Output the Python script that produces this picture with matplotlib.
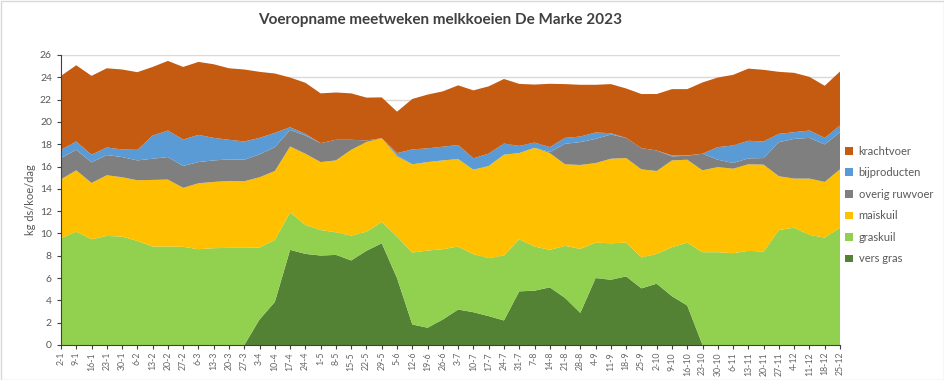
import numpy as np
import matplotlib
matplotlib.use("Agg")
import matplotlib.pyplot as plt
from matplotlib.patches import Rectangle

plt.rcParams['font.family'] = ['Lato', 'DejaVu Sans']

weeks = ["2-1", "9-1", "16-1", "23-1", "30-1", "6-2", "13-2", "20-2", "27-2", "6-3",
         "13-3", "20-3", "27-3", "3-4", "10-4", "17-4", "24-4", "1-5", "8-5", "15-5",
         "22-5", "29-5", "5-6", "12-6", "19-6", "26-6", "3-7", "10-7", "17-7", "24-7",
         "31-7", "7-8", "14-8", "21-8", "28-8", "4-9", "11-9", "18-9", "25-9", "2-10",
         "9-10", "16-10", "23-10", "30-10", "6-11", "13-11", "20-11", "27-11", "4-12",
         "11-12", "18-12", "25-12"]

vers_gras = [0, 0, 0, 0, 0, 0, 0, 0, 0, 0,
             0, 0, 0, 2.29, 3.86, 8.53, 8.17, 8.02, 8.08, 7.58,
             8.45, 9.12, 6.0, 1.84, 1.55, 2.29, 3.18, 2.94, 2.59, 2.2,
             4.81, 4.87, 5.17, 4.22, 2.88, 6.0, 5.85, 6.15, 5.08, 5.5,
             4.37, 3.54, 0, 0, 0, 0, 0, 0, 0, 0, 0, 0]
graskuil = [9.57, 10.16, 9.48, 9.78, 9.72, 9.33, 8.83, 8.83, 8.80, 8.59,
            8.68, 8.71, 8.71, 6.45, 5.56, 3.36, 2.59, 2.29, 2.02, 2.23,
            1.71, 1.91, 3.72, 6.45, 6.92, 6.30, 5.65, 5.20, 5.20, 5.82,
            4.67, 3.96, 3.36, 4.67, 5.74, 3.18, 3.27, 3.03, 2.77, 2.67,
            4.40, 5.64, 8.32, 8.32, 8.23, 8.44, 8.38, 10.31, 10.52, 9.87, 9.63, 10.52]
maiskuil = [5.29, 5.50, 5.05, 5.44, 5.32, 5.44, 5.97, 6.00, 5.29, 5.91,
            5.94, 6.00, 5.97, 6.30, 6.18, 5.91, 6.39, 6.09, 6.45, 7.69,
            8.04, 7.51, 7.19, 7.91, 7.93, 7.96, 7.84, 7.58, 8.26, 9.04,
            7.73, 8.85, 8.68, 7.31, 7.52, 7.13, 7.58, 7.58, 7.90, 7.43,
            7.78, 7.43, 7.34, 7.64, 7.58, 7.76, 7.79, 4.82, 4.40, 5.05, 4.99, 5.23]
overig_ruwvoer = [1.90, 1.84, 1.84, 1.81, 1.81, 1.78, 1.90, 2.02, 1.96, 1.90,
                  1.93, 1.93, 1.93, 2.05, 2.14, 1.49, 1.63, 1.70, 1.85, 0.90,
                  0.14, 0.0, 0.09, 0.0, 0.0, 0.0, 0.0, 0.0, 0.0, 0.0,
                  0.0, 0.0, 0.09, 1.84, 2.05, 2.17, 2.17, 1.81, 1.90, 1.84,
                  0.36, 0.36, 1.49, 0.65, 0.51, 0.53, 0.59, 3.06, 3.56, 3.65, 3.36, 3.33]
bijproducten = [0.74, 0.75, 0.69, 0.68, 0.68, 0.95, 2.08, 2.38, 2.37, 2.44,
                2.02, 1.76, 1.64, 1.48, 1.28, 0.23, 0.15, 0.0, 0.0, 0.0,
                0.0, 0.0, 0.2, 1.34, 1.23, 1.23, 1.26, 1.02, 1.11, 1.00,
                0.64, 0.47, 0.44, 0.53, 0.50, 0.57, 0.12, 0.0, 0.0, 0.0,
                0.09, 0.03, 0.0, 1.13, 1.57, 1.58, 1.49, 0.74, 0.60, 0.66, 0.59, 0.59]
krachtvoer = [6.63, 6.83, 7.07, 7.10, 7.17, 6.96, 6.15, 6.24, 6.51, 6.54,
              6.60, 6.41, 6.45, 5.92, 5.32, 4.46, 4.58, 4.46, 4.24, 4.16,
              3.84, 3.66, 3.72, 4.52, 4.82, 4.96, 5.35, 6.09, 6.03, 5.79,
              5.56, 5.20, 5.68, 4.82, 4.64, 4.28, 4.40, 4.43, 4.85, 5.06,
              5.94, 5.94, 6.39, 6.24, 6.33, 6.47, 6.42, 5.56, 5.32, 4.81, 4.67, 4.85]

series_names = ["vers gras", "graskuil", "maïskuil", "overig ruwvoer", "bijproducten", "krachtvoer"]
colors = ["#548235", "#92D050", "#FFC000", "#7F7F7F", "#5B9BD5", "#C55A11"]
title = "Voeropname meetweken melkkoeien De Marke 2023"
ylabel = "kg ds/koe/dag"

fig = plt.figure(figsize=(9.45, 3.8), dpi=100)
ax = fig.add_axes([61/945, 1-345/380, (840-61)/945, (345-55)/380])

x = np.arange(len(weeks))
ax.stackplot(x, vers_gras, graskuil, maiskuil, overig_ruwvoer, bijproducten, krachtvoer,
             colors=colors, labels=series_names, linewidth=0, zorder=2)

ax.set_xlim(0, len(weeks) - 1)
ax.set_ylim(0, 26)
ax.set_yticks(np.arange(0, 27, 2))
ax.yaxis.grid(True, color="#D9D9D9", linewidth=1, zorder=0)
ax.set_axisbelow(True)
ax.set_xticks(x)
ax.set_xticklabels(weeks, rotation=90, fontsize=6.3, color="#666666")
ax.tick_params(axis='y', labelsize=7.5, labelcolor="#595959", length=3, color="#404040")
ax.tick_params(axis='x', length=3, color="#404040", pad=2)
for s in ["top", "right"]:
    ax.spines[s].set_visible(False)
for s in ["left", "bottom"]:
    ax.spines[s].set_color("#404040")
    ax.spines[s].set_linewidth(0.8)
    ax.spines[s].set_zorder(3)
ax.set_ylabel(ylabel, fontsize=8, color="#595959", labelpad=3)

fig.text(440/945, 1-20/380, title, ha="center", va="center", fontsize=11,
         fontweight="bold", color="#404040")

handles, labels = ax.get_legend_handles_labels()
fig.legend(handles[::-1], labels[::-1], loc="center left",
           bbox_to_anchor=(843/945, 1-205/380), frameon=False, fontsize=8,
           handlelength=0.7, handleheight=0.7, labelspacing=0.95, handletextpad=0.5,
           borderaxespad=0, borderpad=0.2, labelcolor="#595959")

fig.patches.append(Rectangle((0.5/945, 0.5/380), 1-1/945, 1-1/380, transform=fig.transFigure,
                             fill=False, edgecolor="#D9D9D9", linewidth=1))

fig.savefig("out.png", dpi=100)
